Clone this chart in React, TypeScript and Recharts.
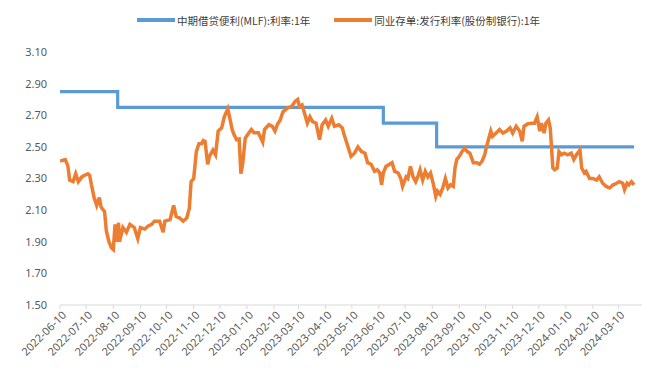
import React from "react";
import { LineChart, Line, XAxis, YAxis, Legend } from "recharts";

const mlfName = "中期借贷便利(MLF):利率:1年";
const ncdName = "同业存单:发行利率(股份制银行):1年";

const mlfDates = ["2022-06-10", "2022-08-15", "2023-06-15", "2023-08-15", "2024-03-28"];
const mlfValues = [2.85, 2.75, 2.65, 2.5, 2.5];

const ncdDates = [
  "2022-06-10","2022-06-16","2022-06-19","2022-06-21","2022-06-25","2022-06-28","2022-07-01","2022-07-05","2022-07-08","2022-07-12",
  "2022-07-14","2022-07-16","2022-07-19","2022-07-22","2022-07-25","2022-07-27","2022-07-31","2022-08-02","2022-08-05","2022-08-08",
  "2022-08-10","2022-08-12","2022-08-14","2022-08-16","2022-08-17","2022-08-21","2022-08-25","2022-08-29","2022-09-03","2022-09-07",
  "2022-09-10","2022-09-15","2022-09-19","2022-09-23","2022-09-26","2022-10-02","2022-10-06","2022-10-08","2022-10-14","2022-10-18",
  "2022-10-21","2022-10-25","2022-10-29","2022-11-02","2022-11-05","2022-11-07","2022-11-10","2022-11-13","2022-11-16","2022-11-19",
  "2022-11-21","2022-11-23","2022-11-26","2022-11-28","2022-12-02","2022-12-05","2022-12-08","2022-12-12","2022-12-15","2022-12-19",
  "2022-12-21","2022-12-24","2022-12-26","2022-12-29","2023-01-01","2023-01-03","2023-01-05","2023-01-08","2023-01-11","2023-01-15",
  "2023-01-18","2023-01-23","2023-01-28","2023-01-30","2023-02-04","2023-02-08","2023-02-11","2023-02-14","2023-02-17","2023-02-20",
  "2023-02-25","2023-03-02","2023-03-06","2023-03-09","2023-03-11","2023-03-14","2023-03-17","2023-03-20","2023-03-23","2023-03-26",
  "2023-03-30","2023-04-03","2023-04-06","2023-04-10","2023-04-13","2023-04-17","2023-04-20","2023-04-25","2023-04-29","2023-05-01",
  "2023-05-03","2023-05-05","2023-05-09","2023-05-13","2023-05-17","2023-05-21","2023-05-25","2023-05-28","2023-06-01","2023-06-05",
  "2023-06-08","2023-06-11","2023-06-13","2023-06-15","2023-06-18","2023-06-22","2023-06-25","2023-06-28","2023-07-02","2023-07-05",
  "2023-07-07","2023-07-11","2023-07-13","2023-07-16","2023-07-19","2023-07-22","2023-07-25","2023-07-27","2023-07-30","2023-08-02",
  "2023-08-05","2023-08-08","2023-08-11","2023-08-14","2023-08-16","2023-08-19","2023-08-22","2023-08-25","2023-08-28","2023-08-31",
  "2023-09-03","2023-09-05","2023-09-07","2023-09-10","2023-09-13","2023-09-16","2023-09-19","2023-09-22","2023-09-26","2023-09-30",
  "2023-10-03","2023-10-06","2023-10-09","2023-10-11","2023-10-13","2023-10-16","2023-10-18","2023-10-22","2023-10-26","2023-10-30",
  "2023-11-03","2023-11-07","2023-11-10","2023-11-14","2023-11-18","2023-11-21","2023-11-23","2023-11-27","2023-12-01","2023-12-05",
  "2023-12-08","2023-12-11","2023-12-13","2023-12-16","2023-12-18","2023-12-21","2023-12-23","2023-12-26","2023-12-28","2023-12-31",
  "2024-01-02","2024-01-05","2024-01-08","2024-01-12","2024-01-16","2024-01-19","2024-01-22","2024-01-26","2024-01-28","2024-01-31",
  "2024-02-02","2024-02-06","2024-02-10","2024-02-14","2024-02-17","2024-02-21","2024-02-25","2024-02-29","2024-03-04","2024-03-08",
  "2024-03-11","2024-03-15","2024-03-17","2024-03-20","2024-03-22","2024-03-25","2024-03-28"
];
const ncdValues = [
  2.41,2.42,2.38,2.29,2.28,2.33,2.28,2.31,2.32,2.33,
  2.32,2.26,2.18,2.13,2.18,2.12,2.09,1.97,1.90,1.86,
  1.85,2.01,1.90,2.02,1.90,1.99,1.96,2.01,1.99,1.92,
  1.99,1.98,2.00,2.01,2.03,2.03,1.96,2.03,2.04,2.13,
  2.06,2.05,2.03,2.05,2.11,2.28,2.30,2.47,2.52,2.52,
  2.54,2.535,2.39,2.44,2.48,2.45,2.60,2.62,2.69,2.74,
  2.69,2.61,2.58,2.545,2.55,2.33,2.39,2.555,2.58,2.61,
  2.59,2.59,2.53,2.61,2.64,2.63,2.60,2.645,2.67,2.72,
  2.745,2.755,2.787,2.80,2.755,2.765,2.71,2.65,2.69,2.66,
  2.65,2.545,2.64,2.67,2.63,2.68,2.63,2.64,2.62,2.58,
  2.545,2.51,2.44,2.46,2.50,2.47,2.46,2.40,2.39,2.345,
  2.355,2.335,2.26,2.335,2.376,2.39,2.40,2.345,2.335,2.30,
  2.25,2.31,2.30,2.376,2.31,2.28,2.32,2.355,2.29,2.345,
  2.31,2.335,2.27,2.187,2.22,2.20,2.24,2.30,2.24,2.26,
  2.25,2.366,2.42,2.44,2.47,2.49,2.47,2.46,2.40,2.40,
  2.39,2.41,2.45,2.50,2.54,2.60,2.566,2.587,2.61,2.587,
  2.60,2.62,2.587,2.63,2.60,2.535,2.63,2.645,2.65,2.65,
  2.69,2.60,2.65,2.587,2.65,2.67,2.62,2.366,2.355,2.366,
  2.47,2.45,2.46,2.45,2.46,2.42,2.45,2.48,2.366,2.335,
  2.345,2.30,2.30,2.29,2.31,2.27,2.25,2.24,2.26,2.27,
  2.28,2.27,2.23,2.27,2.26,2.28,2.26
];

const tickLabels = [
  "2022-06-10","2022-07-10","2022-08-10","2022-09-10","2022-10-10","2022-11-10","2022-12-10",
  "2023-01-10","2023-02-10","2023-03-10","2023-04-10","2023-05-10","2023-06-10","2023-07-10",
  "2023-08-10","2023-09-10","2023-10-10","2023-11-10","2023-12-10","2024-01-10","2024-02-10","2024-03-10"
];
const yTicks = [1.5, 1.7, 1.9, 2.1, 2.3, 2.5, 2.7, 2.9, 3.1];
const xDomainDates = ["2022-06-10", "2024-04-06"];

const t = (s: string) => Date.parse(s + "T00:00:00Z");
const fmt = (v: number) => new Date(v).toISOString().slice(0, 10);

const mlfData = mlfDates.map((d, i) => ({ t: t(d), v: mlfValues[i] }));
const ncdData = ncdDates.map((d, i) => ({ t: t(d), v: ncdValues[i] }));

const FONT = "'Noto Sans', 'Noto Sans CJK SC', sans-serif";

const XTick = (props: any) => {
  const { x, y, payload } = props;
  return (
    <g transform={`translate(${x + 4},${y + 2})`}>
      <text x={0} y={0} dy={4} textAnchor="end" transform="rotate(-45)" fontSize={11} fill="#595959" fontFamily={FONT}>
        {fmt(payload.value)}
      </text>
    </g>
  );
};

const LegendContent = (props: any) => {
  const { payload } = props;
  return (
    <div style={{ display: "flex", justifyContent: "flex-start", paddingLeft: 137, alignItems: "center", height: 24 }}>
      {(payload || []).map((p: any, i: number) => (
        <div key={i} style={{ display: "flex", alignItems: "center", marginRight: 24 }}>
          <div style={{ width: 38, height: 4, background: p.color, marginRight: 2 }} />
          <span style={{ fontSize: 10.5, color: "#404040", fontFamily: "'Noto Sans CJK SC', sans-serif", whiteSpace: "nowrap" }}>{p.value}</span>
        </div>
      ))}
    </div>
  );
};

export default function App() {
  return (
    <div style={{ position: "absolute", left: 0, top: 0, width: 660, height: 373, background: "#fff" }}>
      <LineChart width={660} height={373} margin={{ top: 28, right: 18, bottom: 8, left: 10 }}>
        <Legend
          verticalAlign="top"
          content={<LegendContent />}
          wrapperStyle={{ top: 8, left: 0, width: 660, height: 24 }}
        />
        <XAxis
          dataKey="t"
          type="number"
          domain={[t(xDomainDates[0]), t(xDomainDates[1])]}
          ticks={tickLabels.map(t)}
          tick={<XTick />}
          interval={0}
          height={60}
          axisLine={{ stroke: "#d9d9d9" }}
          tickLine={{ stroke: "#d9d9d9" }}
          tickSize={4}
          allowDataOverflow
        />
        <YAxis
          type="number"
          domain={[1.5, 3.1]}
          ticks={yTicks}
          width={50}
          axisLine={false}
          tickLine={false}
          tickMargin={7}
          tickFormatter={(v: number) => v.toFixed(2)}
          tick={{ fontSize: 11, fill: "#595959", fontFamily: FONT }}
          interval={0}
        />
        <Line
          data={mlfData}
          dataKey="v"
          name={mlfName}
          type="stepAfter"
          stroke="#5B9BD5"
          strokeWidth={3.2}
          dot={false}
          isAnimationActive={false}
        />
        <Line
          data={ncdData}
          dataKey="v"
          name={ncdName}
          type="linear"
          stroke="#ED7D31"
          strokeWidth={3.5}
          dot={false}
          isAnimationActive={false}
        />
      </LineChart>
    </div>
  );
}
